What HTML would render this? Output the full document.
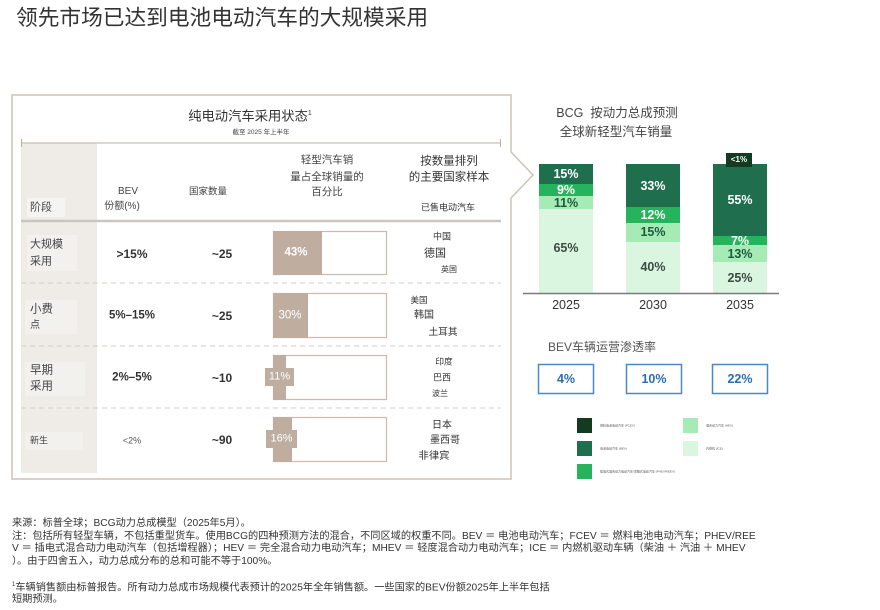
<!DOCTYPE html>
<html><head><meta charset="utf-8">
<style>
html,body{margin:0;padding:0;background:#fff;}
body{width:880px;height:610px;position:relative;overflow:hidden;font-family:"Liberation Sans","Noto Sans CJK SC",sans-serif;color:#333;}
.t{position:absolute;white-space:nowrap;line-height:1;}
.c{transform:translate(-50%,-50%);}
.l{transform:translate(0,-50%);}
svg{position:absolute;left:0;top:0;}
.b{font-weight:bold;}
</style></head><body>
<svg width="880" height="610" viewBox="0 0 880 610">
  <polygon points="12,95 511,95 511,152 533,175 511,198 511,479 12,479" fill="none" stroke="#cdc2b6" stroke-width="1.5"/>
  <rect x="21" y="143" width="76" height="330" fill="#efece8"/>
  <rect x="27" y="198" width="38" height="19" fill="#f6f4f2"/>
  <rect x="27" y="235" width="50" height="36" fill="#f3f1ee"/>
  <rect x="25" y="300" width="52" height="34" fill="#f3f1ee"/>
  <rect x="25" y="362" width="60" height="34" fill="#f3f1ee"/>
  <rect x="25" y="432" width="58" height="18" fill="#f3f1ee"/>
  <line x1="21" y1="143" x2="501" y2="143" stroke="#bcb0a3" stroke-width="1"/>
  <line x1="21.5" y1="139" x2="21.5" y2="147" stroke="#bcb0a3" stroke-width="1"/>
  <line x1="500.5" y1="139" x2="500.5" y2="147" stroke="#bcb0a3" stroke-width="1"/>
  <line x1="21" y1="221" x2="501" y2="221" stroke="#c9c5c1" stroke-width="2.5"/>
  <line x1="21" y1="283" x2="501" y2="283" stroke="#d3cdc7" stroke-width="1" stroke-dasharray="5,4"/>
  <line x1="21" y1="346" x2="501" y2="346" stroke="#d3cdc7" stroke-width="1" stroke-dasharray="5,4"/>
  <line x1="21" y1="408" x2="501" y2="408" stroke="#d3cdc7" stroke-width="1" stroke-dasharray="5,4"/>
  <rect x="273.5" y="231.5" width="113" height="43" fill="#fff" stroke="#c9bcae" stroke-width="1.2"/>
  <rect x="273" y="231" width="49" height="44" fill="#bfaea0"/>
  <rect x="273.5" y="293.5" width="113" height="44" fill="#fff" stroke="#c9bcae" stroke-width="1.2"/>
  <rect x="273" y="293" width="35" height="45" fill="#bfaea0"/>
  <rect x="273.5" y="355.5" width="113" height="44" fill="#fff" stroke="#c9bcae" stroke-width="1.2"/>
  <rect x="273" y="355" width="13" height="45" fill="#bfaea0"/>
  <rect x="265" y="368" width="29" height="18" fill="#bfaea0"/>
  <rect x="273.5" y="417.5" width="113" height="44" fill="#fff" stroke="#c9bcae" stroke-width="1.2"/>
  <rect x="273" y="417" width="19" height="45" fill="#bfaea0"/>
  <rect x="266" y="430" width="31" height="18" fill="#bfaea0"/>

  <rect x="539" y="164" width="54" height="20" fill="#1f6f4f"/>
  <rect x="539" y="184" width="54" height="12" fill="#25b45b"/>
  <rect x="539" y="196" width="54" height="13" fill="#a6eab5"/>
  <rect x="539" y="209" width="54" height="84" fill="#daf6e0"/>

  <rect x="626" y="164" width="54" height="43" fill="#1f6f4f"/>
  <rect x="626" y="207" width="54" height="16" fill="#25b45b"/>
  <rect x="626" y="223" width="54" height="19" fill="#a6eab5"/>
  <rect x="626" y="242" width="54" height="51" fill="#daf6e0"/>

  <rect x="713" y="164" width="54" height="72" fill="#1f6f4f"/>
  <rect x="713" y="236" width="54" height="9" fill="#25b45b"/>
  <rect x="713" y="245" width="54" height="17" fill="#a6eab5"/>
  <rect x="713" y="262" width="54" height="31" fill="#daf6e0"/>
  <rect x="726" y="153" width="26" height="14" fill="#133b22"/>

  <line x1="523" y1="293.5" x2="779" y2="293.5" stroke="#7a7a7a" stroke-width="1.5"/>

  <rect x="538.5" y="364.5" width="55" height="29" fill="#fff" stroke="#4a88c6" stroke-width="1.5"/>
  <rect x="626.5" y="364.5" width="55" height="29" fill="#fff" stroke="#4a88c6" stroke-width="1.5"/>
  <rect x="712.5" y="364.5" width="55" height="29" fill="#fff" stroke="#4a88c6" stroke-width="1.5"/>

  <rect x="577" y="418" width="15" height="15" fill="#133b22"/>
  <rect x="577" y="441" width="15" height="15" fill="#1f6f4f"/>
  <rect x="577" y="464" width="15" height="15" fill="#25b45b"/>
  <rect x="683" y="418" width="15" height="15" fill="#a6eab5"/>
  <rect x="683" y="441" width="15" height="15" fill="#daf6e0"/>
</svg>

<div class="t l" style="left:16px;top:18px;font-size:21.7px;color:#333;">领先市场已达到电池电动汽车的大规模采用</div>

<div class="t c" style="left:250px;top:116px;font-size:13.3px;color:#333;">纯电动汽车采用状态<sup style="font-size:7px;">1</sup></div>
<div class="t c" style="left:261px;top:133px;font-size:6.5px;color:#444;">截至 2025 年上半年</div>

<div class="t l" style="left:30px;top:208px;font-size:11px;color:#444;">阶段</div>
<div class="t c" style="left:128px;top:192px;font-size:10px;color:#444;">BEV</div>
<div class="t c" style="left:122px;top:207px;font-size:10px;color:#444;">份额(%)</div>
<div class="t c" style="left:208px;top:192px;font-size:9.5px;color:#444;">国家数量</div>
<div class="t c" style="left:327px;top:160px;font-size:10.5px;color:#444;">轻型汽车销</div>
<div class="t c" style="left:327px;top:177px;font-size:10.5px;color:#444;">量占全球销量的</div>
<div class="t c" style="left:327px;top:192px;font-size:10.5px;color:#444;">百分比</div>
<div class="t c" style="left:449px;top:162px;font-size:11.5px;color:#333;">按数量排列</div>
<div class="t c" style="left:449px;top:178px;font-size:11.5px;color:#333;">的主要国家样本</div>
<div class="t c" style="left:448px;top:208px;font-size:9px;color:#333;">已售电动汽车</div>

<div class="t l" style="left:30px;top:245px;font-size:11px;color:#444;">大规模</div>
<div class="t l" style="left:30px;top:262px;font-size:11px;color:#444;">采用</div>
<div class="t c b" style="left:132px;top:254px;font-size:12px;color:#333;">&gt;15%</div>
<div class="t c b" style="left:222px;top:254px;font-size:12px;color:#333;">~25</div>
<div class="t c b" style="left:296px;top:253px;font-size:11.5px;color:#fff;">43%</div>
<div class="t c" style="left:442px;top:237px;font-size:9px;color:#333;">中国</div>
<div class="t c" style="left:435px;top:254px;font-size:11px;color:#333;">德国</div>
<div class="t c" style="left:449px;top:270px;font-size:8px;color:#333;">英国</div>

<div class="t l" style="left:30px;top:310px;font-size:11.5px;color:#444;">小费</div>
<div class="t l" style="left:30px;top:326px;font-size:10px;color:#444;">点</div>
<div class="t c b" style="left:132px;top:316px;font-size:11.5px;color:#333;">5%–15%</div>
<div class="t c b" style="left:222px;top:316px;font-size:12px;color:#333;">~25</div>
<div class="t c" style="left:290px;top:316px;font-size:11.5px;color:#fff;">30%</div>
<div class="t c" style="left:419px;top:300px;font-size:8.5px;color:#333;">美国</div>
<div class="t c" style="left:424px;top:316px;font-size:10px;color:#333;">韩国</div>
<div class="t c" style="left:443px;top:333px;font-size:9.7px;color:#333;">土耳其</div>

<div class="t l" style="left:30px;top:371px;font-size:11.5px;color:#444;">早期</div>
<div class="t l" style="left:30px;top:387px;font-size:11.5px;color:#444;">采用</div>
<div class="t c b" style="left:132px;top:378px;font-size:11.5px;color:#333;">2%–5%</div>
<div class="t c b" style="left:222px;top:378px;font-size:12px;color:#333;">~10</div>
<div class="t c" style="left:279.5px;top:377px;font-size:11px;color:#fff;">11%</div>
<div class="t c" style="left:444px;top:362px;font-size:8.7px;color:#333;">印度</div>
<div class="t c" style="left:442px;top:378px;font-size:9px;color:#333;">巴西</div>
<div class="t c" style="left:440px;top:394px;font-size:8px;color:#333;">波兰</div>

<div class="t l" style="left:30px;top:441px;font-size:9px;color:#444;">新生</div>
<div class="t c" style="left:132px;top:441px;font-size:9px;color:#555;">&lt;2%</div>
<div class="t c b" style="left:222px;top:440px;font-size:12px;color:#333;">~90</div>
<div class="t c" style="left:281.5px;top:439px;font-size:11px;color:#fff;">16%</div>
<div class="t c" style="left:442px;top:426px;font-size:10px;color:#333;">日本</div>
<div class="t c" style="left:445px;top:441px;font-size:10px;color:#333;">墨西哥</div>
<div class="t c" style="left:434px;top:457px;font-size:10.3px;color:#333;">非律宾</div>

<div class="t c" style="left:617px;top:113px;font-size:12.5px;color:#444;">BCG&nbsp; 按动力总成预测</div>
<div class="t c" style="left:616px;top:132px;font-size:12.5px;color:#444;">全球新轻型汽车销量</div>

<div class="t c b" style="left:566px;top:174px;font-size:12.5px;color:#fff;">15%</div>
<div class="t c b" style="left:566px;top:190px;font-size:12.5px;color:#fff;">9%</div>
<div class="t c b" style="left:566px;top:203px;font-size:12.5px;color:#1d5b3b;">11%</div>
<div class="t c b" style="left:566px;top:248px;font-size:12.5px;color:#3d4a42;">65%</div>

<div class="t c b" style="left:653px;top:186px;font-size:12.5px;color:#fff;">33%</div>
<div class="t c b" style="left:653px;top:215px;font-size:12.5px;color:#fff;">12%</div>
<div class="t c b" style="left:653px;top:232px;font-size:12.5px;color:#1d5b3b;">15%</div>
<div class="t c b" style="left:653px;top:267px;font-size:12.5px;color:#3d4a42;">40%</div>

<div class="t c b" style="left:739px;top:160px;font-size:8px;color:#fff;">&lt;1%</div>
<div class="t c b" style="left:740px;top:200px;font-size:12.5px;color:#fff;">55%</div>
<div class="t c b" style="left:740px;top:241px;font-size:12.5px;color:#fff;">7%</div>
<div class="t c b" style="left:740px;top:254px;font-size:12.5px;color:#1d5b3b;">13%</div>
<div class="t c b" style="left:740px;top:278px;font-size:12.5px;color:#3d4a42;">25%</div>

<div class="t c" style="left:566px;top:305px;font-size:12.5px;color:#333;">2025</div>
<div class="t c" style="left:653px;top:305px;font-size:12.5px;color:#333;">2030</div>
<div class="t c" style="left:740px;top:305px;font-size:12.5px;color:#333;">2035</div>

<div class="t l" style="left:548px;top:347px;font-size:12px;color:#555;">BEV车辆运营渗透率</div>
<div class="t c b" style="left:566px;top:379px;font-size:12.5px;color:#2a6db5;">4%</div>
<div class="t c b" style="left:654px;top:379px;font-size:12.5px;color:#2a6db5;">10%</div>
<div class="t c b" style="left:740px;top:379px;font-size:12.5px;color:#2a6db5;">22%</div>

<div class="t l" style="left:600px;top:426px;font-size:3px;color:#555;">燃料电池电动汽车 (FCEV)</div>
<div class="t l" style="left:600px;top:449px;font-size:3px;color:#555;">电池电动汽车 (BEV)</div>
<div class="t l" style="left:600px;top:472px;font-size:3px;color:#555;">插电式混合动力电动汽车/增程式电动汽车 (PHEV/REEV)</div>
<div class="t l" style="left:706px;top:426px;font-size:3px;color:#555;">混合动力汽车 (HEV)</div>
<div class="t l" style="left:706px;top:449px;font-size:3px;color:#555;">内燃机 (ICE)</div>

<div class="t l" style="left:12px;top:524px;font-size:10.2px;color:#333;">来源：标普全球；BCG动力总成模型（2025年5月）。</div>
<div class="t l" style="left:12px;top:536.5px;font-size:10.2px;color:#333;">注：包括所有轻型车辆，不包括重型货车。使用BCG的四种预测方法的混合，不同区域的权重不同。BEV ＝ 电池电动汽车；FCEV ＝ 燃料电池电动汽车；PHEV/REE</div>
<div class="t l" style="left:12px;top:549px;font-size:10.2px;color:#333;">V ＝ 插电式混合动力电动汽车（包括增程器）；HEV ＝ 完全混合动力电动汽车；MHEV ＝ 轻度混合动力电动汽车；ICE ＝ 内燃机驱动车辆（柴油 ＋ 汽油 ＋ MHEV</div>
<div class="t l" style="left:12px;top:561.5px;font-size:10.2px;color:#333;">）。由于四舍五入，动力总成分布的总和可能不等于100%。</div>
<div class="t l" style="left:12px;top:588px;font-size:10.2px;color:#333;"><sup style="font-size:6px;">1</sup>车辆销售额由标普报告。所有动力总成市场规模代表预计的2025年全年销售额。一些国家的BEV份额2025年上半年包括</div>
<div class="t l" style="left:12px;top:600px;font-size:10.2px;color:#333;">短期预测。</div>
</body></html>
